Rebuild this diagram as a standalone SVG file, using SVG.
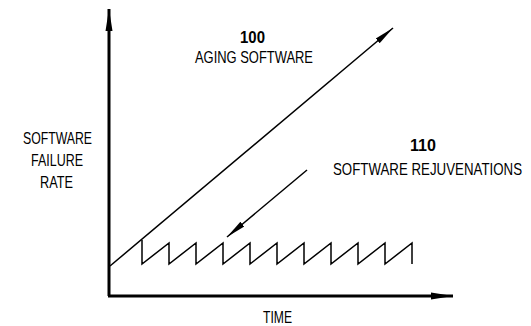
<svg xmlns="http://www.w3.org/2000/svg" width="531" height="326" viewBox="0 0 531 326">
  <style>
    text { font-family: "Liberation Sans", Arial, sans-serif; fill: #000; }
    .lbl { font-size: 16.5px; }
    .num { font-size: 17px; font-weight: bold; }
    .axis { stroke: #000; stroke-width: 3; fill: none; }
    .thin { stroke: #000; stroke-width: 1.5; fill: none; }
  </style>
  <defs>
    <marker id="head" viewBox="0 0 20 8" refX="20" refY="4" markerWidth="20" markerHeight="8" markerUnits="userSpaceOnUse" orient="auto">
      <path d="M0,1 L20,4 L0,7 Z" fill="#000"/>
    </marker>
    <marker id="headAxis" viewBox="0 0 22 8" refX="22" refY="4" markerWidth="22" markerHeight="8" markerUnits="userSpaceOnUse" orient="auto">
      <path d="M0,0.5 L22,4 L0,7.5 Z" fill="#000"/>
    </marker>
  </defs>

  <g id="axes">
    <path class="axis" d="M109,296 L109,9" marker-end="url(#headAxis)"/>
    <path class="axis" d="M108,296 L453,296" marker-end="url(#headAxis)"/>
  </g>

  <g id="connectors">
    <!-- aging trend -->
    <path class="thin" d="M110,266 L393,28" marker-end="url(#head)"/>
    <!-- rejuvenation pointer -->
    <path class="thin" d="M307,170 L227,237" marker-end="url(#head)"/>
    <!-- rejuvenated failure rate sawtooth -->
    <path class="thin" d="M142,240 L142,264 L169,243 L169,264 L196,243 L196,264 L223,243 L223,264 L250,243 L250,264 L277,243 L277,264 L304,243 L304,264 L331,243 L331,264 L358,243 L358,264 L385,243 L385,264 L412,243 L412,264"/>
  </g>

  <!-- labels are set in a condensed face: horizontal scale 0.75 (numbers 0.88) -->
  <g id="y-label">
    <text class="lbl" transform="translate(23,144) scale(0.75,1)" textLength="92" lengthAdjust="spacingAndGlyphs">SOFTWARE</text>
    <text class="lbl" transform="translate(31,166) scale(0.75,1)" textLength="69.3" lengthAdjust="spacingAndGlyphs">FAILURE</text>
    <text class="lbl" transform="translate(40,188) scale(0.75,1)" textLength="44" lengthAdjust="spacingAndGlyphs">RATE</text>
  </g>

  <g id="x-label">
    <text class="lbl" transform="translate(263,323) scale(0.75,1)" textLength="38.7" lengthAdjust="spacingAndGlyphs">TIME</text>
  </g>

  <g id="aging">
    <text class="num" transform="translate(240,43) scale(0.88,1)" textLength="28.4" lengthAdjust="spacingAndGlyphs">100</text>
    <text class="lbl" transform="translate(195,63) scale(0.75,1)" textLength="157.3" lengthAdjust="spacingAndGlyphs">AGING SOFTWARE</text>
  </g>

  <g id="rejuvenation">
    <text class="num" transform="translate(410,151) scale(0.88,1)" textLength="29.5" lengthAdjust="spacingAndGlyphs">110</text>
    <text class="lbl" transform="translate(333,175) scale(0.75,1)" textLength="252" lengthAdjust="spacingAndGlyphs">SOFTWARE REJUVENATIONS</text>
  </g>
</svg>
